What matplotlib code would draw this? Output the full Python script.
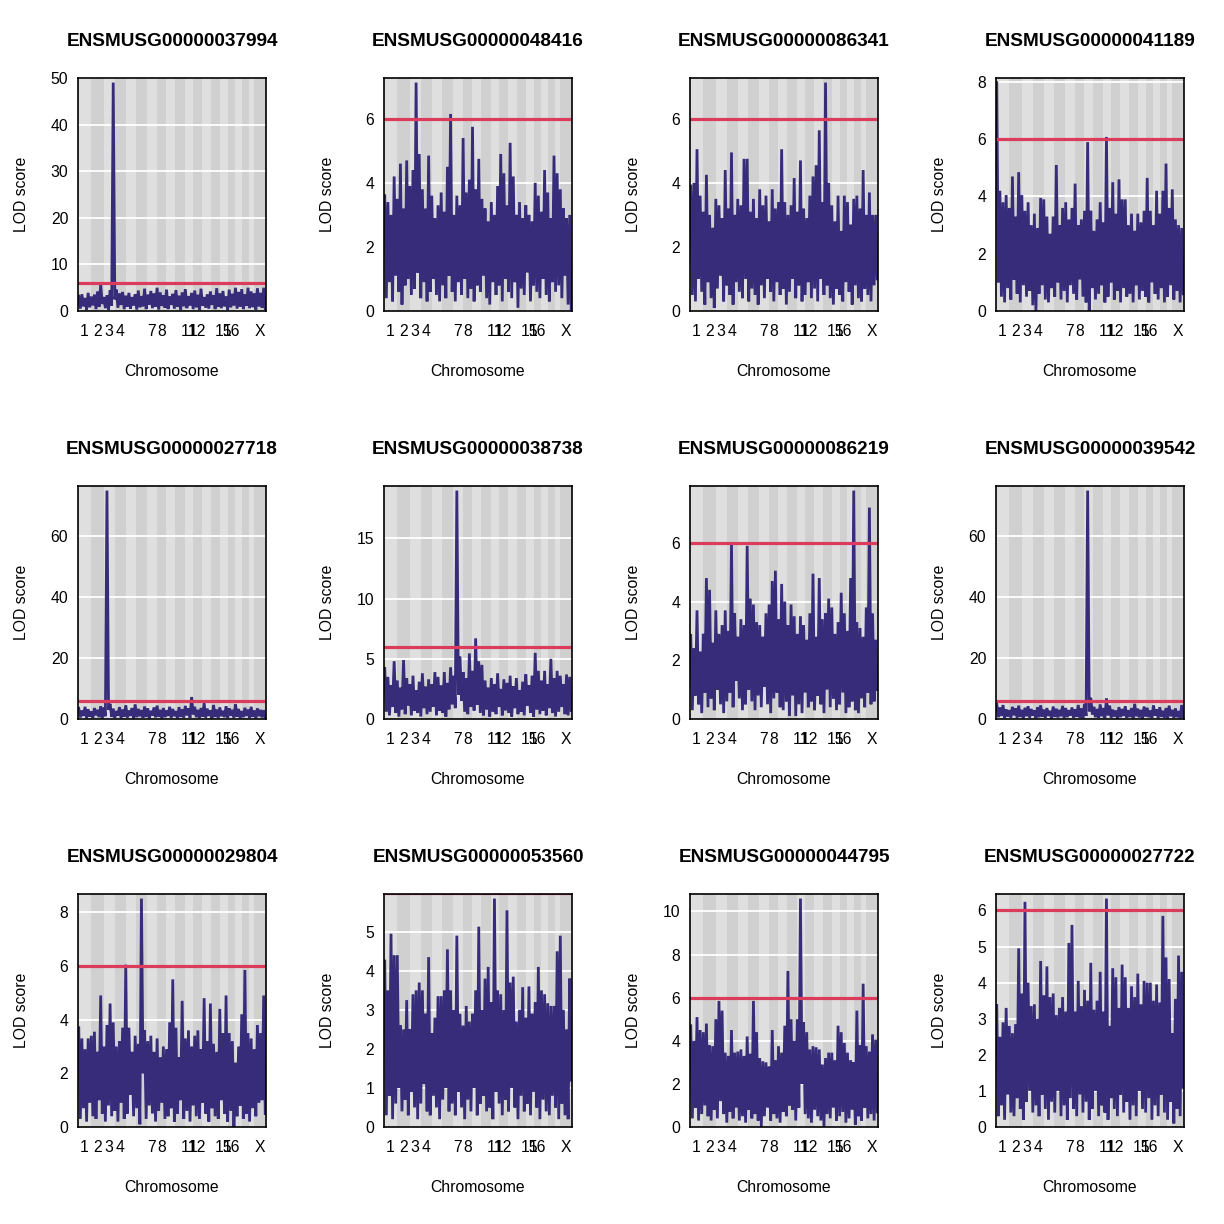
import numpy as np
import matplotlib
matplotlib.use("Agg")
import matplotlib.pyplot as plt

# ---------------- data ----------------
chrom_names = ['1', '2', '3', '4', '5', '6', '7', '8', '9', '10', '11', '12',
               '13', '14', '15', '16', '17', '18', '19', 'X']
chrom_lengths = [195.2, 181.8, 159.7, 156.9, 151.8, 149.6, 144.9, 130.1, 124.4, 130.5,
                 121.9, 120.1, 120.9, 125.1, 104.1, 98.0, 95.3, 90.7, 61.4, 169.5]
chrom_gap = 25.0
label_chroms = ['1', '2', '3', '4', '7', '8', '11', '12', '15', '16', 'X']

genes = ["ENSMUSG00000037994", "ENSMUSG00000048416", "ENSMUSG00000086341", "ENSMUSG00000041189",
         "ENSMUSG00000027718", "ENSMUSG00000038738", "ENSMUSG00000086219", "ENSMUSG00000039542",
         "ENSMUSG00000029804", "ENSMUSG00000053560", "ENSMUSG00000044795", "ENSMUSG00000027722"]
threshold = 6.0

peaks_1 = [3.2, 3.6, 2.8, 3.9, 3.1, 3.5, 4.2, 5.7, 3.0, 3.4,
           4.5, 49.1, 4.6, 3.8, 4.1, 3.3, 3.9, 3.0, 3.6, 4.4,
           3.2, 4.8, 3.5, 4.3, 3.8, 5.0, 4.0, 3.4, 4.6, 3.1,
           3.7, 4.5, 3.3, 4.0, 4.7, 3.2, 3.9, 4.4, 3.5, 4.8,
           3.0, 3.6, 4.2, 3.4, 4.9, 3.8, 4.3, 3.1, 4.6, 3.7,
           5.0, 4.1, 4.7, 3.6, 5.0, 4.2, 3.8, 4.9, 3.9, 5.0]
troughs_1 = [0.5, 1.0, 0.3, 0.8, 1.2, 0.4, 0.9, 1.5, 0.6, 0.3,
             1.1, 2.5, 0.7, 1.3, 0.4, 0.9, 0.5, 1.2, 0.3, 0.8,
             1.0, 0.4, 1.4, 0.6, 0.9, 0.3, 1.1, 0.7, 0.4, 1.3,
             0.5, 0.9, 0.2, 1.0, 0.6, 1.2, 0.4, 0.8, 0.3, 1.1,
             0.7, 0.5, 1.3, 0.4, 0.9, 0.6, 1.0, 0.3, 0.8, 1.2,
             0.5, 0.9, 0.4, 1.1, 0.6, 0.8, 0.3, 1.0, 0.7, 0.5]

peaks_2 = [3.6, 3.4, 3.0, 4.2, 3.5, 4.6, 3.2, 4.7, 3.9, 4.4,
           7.13, 4.9, 3.8, 3.2, 4.85, 3.6, 2.9, 3.3, 3.7, 3.1,
           4.5, 6.15, 3.0, 3.6, 3.3, 5.4, 3.7, 4.1, 5.75, 3.8,
           4.75, 3.5, 3.2, 2.8, 3.4, 3.0, 3.9, 4.9, 4.3, 3.3,
           5.25, 4.2, 3.0, 3.4, 2.9, 3.3, 3.0, 2.8, 4.0, 3.6,
           3.1, 4.4, 3.7, 2.9, 4.85, 4.3, 3.8, 3.2, 2.9, 3.0]
troughs_2 = [0.4, 0.9, 0.3, 1.1, 0.6, 0.2, 0.8, 1.0, 0.5, 0.7,
             1.2, 0.4, 0.9, 0.3, 0.6, 1.0, 0.5, 0.3, 0.8, 0.4,
             1.1, 0.6, 0.3, 0.9, 0.5, 1.0, 0.4, 0.7, 0.3, 0.8,
             0.6, 1.1, 0.4, 0.2, 0.9, 0.5, 0.8, 0.3, 1.0, 0.6,
             0.4, 0.9, 0.1, 0.7, 0.5, 1.2, 0.3, 0.8, 0.6, 0.4,
             1.0, 0.5, 0.3, 0.9, 0.6, 0.8, 0.4, 1.1, 0.2, 0.0]

peaks_3 = [3.9, 4.0, 5.05, 3.6, 3.1, 4.25, 3.0, 2.6, 3.5, 3.3,
           2.9, 4.4, 3.2, 4.95, 3.0, 3.5, 3.3, 4.75, 4.75, 3.1,
           3.5, 2.9, 3.8, 3.3, 3.6, 2.8, 3.8, 3.2, 3.4, 5.05,
           3.4, 3.0, 3.3, 4.15, 3.1, 4.7, 3.2, 2.9, 3.6, 4.2,
           4.55, 5.64, 3.4, 7.13, 4.0, 3.3, 2.8, 3.6, 2.5, 3.6,
           3.4, 2.7, 3.5, 3.6, 3.2, 4.4, 3.0, 3.7, 3.0, 3.0]
troughs_3 = [0.5, 0.3, 1.0, 0.6, 0.2, 0.9, 0.4, 0.1, 0.7, 1.1,
             0.3, 0.8, 0.5, 0.2, 0.9, 0.6, 0.4, 1.0, 0.3, 0.7,
             0.5, 0.2, 0.8, 0.4, 1.0, 0.6, 0.3, 0.9, 0.5, 0.7,
             0.2, 0.6, 1.0, 0.4, 0.8, 0.3, 0.5, 0.9, 0.4, 0.7,
             0.3, 1.0, 0.5, 0.8, 0.4, 0.2, 0.7, 0.5, 0.3, 0.9,
             0.6, 0.2, 0.8, 0.4, 0.3, 0.7, 0.5, 0.3, 0.8, 1.0]

peaks_4 = [7.98, 4.2, 3.8, 4.05, 3.6, 4.7, 3.3, 4.85, 4.05, 3.5,
           3.8, 3.0, 3.4, 2.9, 3.95, 3.9, 3.3, 2.7, 3.3, 5.1,
           3.0, 3.6, 3.8, 3.2, 3.6, 4.45, 3.0, 3.2, 3.5, 5.9,
           3.5, 2.8, 3.2, 3.8, 3.1, 6.08, 3.6, 4.5, 3.4, 4.6,
           3.9, 3.9, 3.0, 3.4, 2.8, 3.4, 3.1, 3.5, 4.65, 3.5,
           3.0, 4.2, 3.4, 4.2, 5.15, 3.6, 4.25, 3.2, 3.0, 2.9]
troughs_4 = [1.0, 0.5, 0.3, 0.8, 0.4, 1.1, 0.6, 0.3, 0.9, 0.5,
             0.7, 0.2, 0.0, 0.6, 0.9, 0.4, 0.3, 0.8, 0.5, 1.0,
             0.4, 0.7, 0.3, 0.9, 0.6, 0.4, 1.1, 0.5, 0.3, 0.0,
             0.8, 0.4, 0.6, 0.9, 0.3, 0.5, 1.0, 0.4, 0.7, 0.3,
             0.8, 0.5, 0.6, 0.3, 0.9, 0.4, 0.7, 0.5, 0.3, 1.0,
             0.6, 0.4, 0.8, 0.3, 0.5, 0.9, 0.4, 0.7, 0.3, 0.6]

peaks_5 = [3.5, 2.8, 4.0, 3.2, 2.5, 3.6, 3.0, 4.2, 3.8, 74.9,
           5.0, 3.4, 2.6, 3.9, 3.1, 4.5, 2.8, 3.6, 4.8, 3.3,
           2.9, 4.1, 3.5, 2.7, 3.8, 4.4, 3.0, 3.6, 2.8, 4.0,
           3.3, 2.6, 3.9, 3.2, 4.3, 3.5, 7.2, 4.0, 3.0, 3.6,
           5.2, 3.4, 2.8, 4.6, 3.1, 3.8, 2.7, 4.2, 3.5, 3.0,
           4.9, 3.3, 2.6, 3.7, 3.1, 4.0, 2.8, 3.5, 3.0, 2.9]
troughs_5 = [0.5, 1.0, 0.3, 0.8, 0.4, 1.2, 0.6, 0.2, 0.9, 3.0,
             0.7, 0.4, 1.1, 0.3, 0.8, 0.5, 1.0, 0.2, 0.6, 0.9,
             0.4, 0.7, 0.3, 1.1, 0.5, 0.8, 0.2, 0.6, 1.0, 0.4,
             0.9, 0.3, 0.7, 0.5, 1.2, 0.4, 1.5, 0.6, 0.3, 0.8,
             0.5, 1.0, 0.2, 0.7, 0.4, 0.9, 0.6, 0.3, 1.1, 0.5,
             0.8, 0.3, 0.6, 1.0, 0.4, 0.7, 0.2, 0.9, 0.5, 0.6]

peaks_6 = [4.2, 3.5, 2.8, 4.8, 3.2, 2.6, 4.9, 3.4, 2.9, 3.6,
           2.4, 3.1, 3.8, 2.7, 3.3, 2.9, 3.9, 3.5, 2.8, 3.9,
           3.0, 4.3, 3.6, 18.98, 5.2, 3.9, 3.4, 5.45, 4.0, 6.7,
           4.8, 4.5, 3.2, 2.6, 3.4, 2.9, 3.8, 2.5, 3.3, 3.0,
           3.6, 2.7, 3.4, 2.4, 3.1, 3.7, 2.8, 3.6, 5.5, 4.0,
           3.2, 4.0, 2.9, 5.0, 3.4, 4.0, 3.6, 2.9, 3.7, 3.5]
troughs_6 = [0.6, 0.3, 1.0, 0.5, 0.2, 0.8, 0.4, 1.1, 0.3, 0.7,
             0.5, 0.2, 0.9, 0.4, 0.6, 1.0, 0.3, 0.7, 0.5, 0.2,
             0.8, 1.2, 0.9, 2.0, 1.5, 0.6, 0.4, 1.0, 0.7, 1.2,
             0.5, 0.3, 0.8, 0.2, 0.6, 0.4, 1.0, 0.3, 0.7, 0.5,
             0.2, 0.9, 0.4, 0.6, 0.3, 1.1, 0.5, 0.2, 0.8, 0.4,
             0.7, 0.3, 0.9, 0.5, 0.2, 0.6, 1.0, 0.4, 0.3, 0.7]

peaks_7 = [2.85, 2.4, 3.7, 2.3, 2.9, 4.8, 4.4, 2.6, 3.7, 2.9,
           3.2, 3.7, 3.0, 6.0, 3.6, 2.8, 3.4, 3.2, 5.9, 4.1,
           3.9, 3.3, 3.2, 2.8, 3.6, 3.9, 4.7, 5.05, 3.4, 4.6,
           4.0, 3.2, 3.9, 3.5, 2.9, 3.5, 3.2, 2.7, 3.6, 4.95,
           2.8, 4.8, 3.4, 3.6, 4.1, 3.8, 2.9, 3.3, 4.3, 3.6,
           3.0, 4.8, 7.78, 3.3, 3.1, 2.8, 3.8, 7.2, 3.6, 2.7]
troughs_7 = [0.3, 0.8, 0.5, 0.2, 0.9, 0.4, 0.7, 0.3, 1.0, 0.5,
             0.2, 0.6, 0.9, 0.4, 1.3, 0.7, 0.3, 0.5, 1.0, 0.6,
             0.3, 0.8, 0.4, 1.1, 0.5, 0.2, 0.7, 0.9, 0.4, 0.3,
             0.6, 0.1, 0.8, 0.1, 0.5, 0.2, 0.9, 0.4, 0.6, 0.3,
             0.8, 0.5, 0.2, 1.0, 0.4, 0.7, 0.3, 0.5, 0.9, 0.2,
             0.4, 0.6, 0.3, 0.2, 0.7, 0.4, 0.9, 0.5, 0.6, 1.0]

peaks_8 = [5.0, 3.8, 4.6, 3.2, 2.9, 4.0, 3.5, 4.4, 3.0, 3.7,
           4.2, 3.3, 2.8, 3.9, 4.5, 3.1, 3.6, 2.7, 4.1, 3.4,
           3.0, 4.3, 3.6, 2.9, 3.8, 3.2, 4.6, 3.5, 5.0, 75.1,
           7.0, 4.0, 3.3, 4.8, 3.6, 6.8, 4.4, 3.1, 2.8, 3.9,
           3.3, 4.2, 2.9, 3.6, 5.0, 3.4, 3.0, 4.1, 3.7, 2.8,
           4.5, 3.2, 3.9, 2.7, 3.6, 4.4, 3.0, 3.5, 2.6, 4.6]
troughs_8 = [0.6, 1.0, 0.3, 0.8, 0.5, 1.2, 0.4, 0.7, 0.2, 0.9,
             0.5, 1.1, 0.3, 0.6, 0.8, 0.4, 1.0, 0.2, 0.7, 0.5,
             0.9, 0.3, 0.6, 1.1, 0.4, 0.8, 0.5, 0.3, 1.0, 2.5,
             1.5, 0.6, 0.4, 0.9, 0.3, 1.2, 0.5, 0.8, 0.2, 0.6,
             1.0, 0.4, 0.7, 0.3, 0.9, 0.5, 0.2, 0.8, 0.6, 0.4,
             1.1, 0.3, 0.7, 0.5, 0.2, 0.9, 0.4, 0.6, 0.3, 0.8]

peaks_9 = [3.7, 3.3, 2.9, 3.3, 3.4, 3.55, 2.8, 4.9, 3.0, 3.8,
           4.6, 3.9, 3.0, 3.2, 3.7, 6.05, 3.7, 2.8, 3.4, 3.1,
           8.51, 3.6, 3.2, 3.4, 2.8, 3.3, 2.6, 3.0, 2.9, 3.9,
           5.5, 3.7, 2.6, 4.7, 3.3, 3.6, 3.0, 3.4, 3.6, 2.9,
           4.8, 3.2, 4.6, 3.1, 2.8, 4.4, 3.5, 4.9, 3.5, 3.2,
           2.4, 3.0, 4.2, 5.85, 3.5, 3.3, 2.9, 3.8, 3.5, 4.9]
troughs_9 = [0.3, 0.7, 0.2, 0.9, 0.4, 0.3, 1.0, 0.5, 0.2, 0.8,
             0.4, 0.6, 0.2, 0.9, 0.3, 0.5, 1.2, 0.4, 0.7, 0.1,
             2.0, 0.3, 0.8, 0.5, 0.2, 0.6, 0.9, 0.3, 0.4, 0.7,
             0.2, 0.5, 1.0, 0.3, 0.6, 0.2, 0.8, 0.4, 0.3, 0.9,
             0.5, 0.2, 0.7, 0.4, 0.3, 1.0, 0.5, 0.2, 0.6, 0.0,
             0.4, 0.8, 0.3, 0.5, 0.2, 0.7, 0.4, 0.9, 1.0, 0.5]

peaks_10 = [4.25, 3.5, 4.95, 4.4, 4.4, 2.6, 2.5, 3.25, 2.5, 3.4,
            3.5, 3.7, 3.5, 2.9, 4.35, 2.4, 2.8, 3.35, 3.35, 3.5,
            4.55, 3.5, 3.0, 4.9, 2.9, 2.6, 3.1, 2.7, 2.9, 3.5,
            5.13, 3.0, 3.8, 4.1, 3.2, 5.85, 3.5, 3.4, 3.0, 5.55,
            3.7, 3.85, 2.7, 3.0, 3.58, 2.8, 3.6, 2.9, 3.2, 4.1,
            3.5, 3.4, 3.17, 3.1, 3.1, 4.5, 4.9, 3.0, 2.5, 3.8]
troughs_10 = [0.3, 0.8, 0.2, 0.6, 1.0, 0.4, 0.7, 0.3, 0.9, 0.5,
              0.2, 0.6, 1.1, 0.4, 0.3, 0.8, 0.5, 0.2, 0.7, 1.0,
              0.4, 0.6, 0.3, 0.9, 0.5, 0.2, 0.7, 0.4, 1.0, 0.3,
              0.6, 0.8, 0.4, 0.5, 0.2, 0.9, 0.6, 0.3, 0.7, 0.4,
              1.0, 0.5, 0.2, 0.8, 0.4, 0.6, 0.3, 0.9, 0.5, 0.2,
              0.7, 0.4, 0.3, 0.8, 0.5, 0.2, 0.6, 0.3, 0.2, 1.2]

peaks_11 = [4.7, 4.0, 5.1, 4.5, 4.4, 4.8, 3.8, 3.75, 5.0, 5.85,
            5.4, 3.45, 3.3, 4.5, 3.45, 3.5, 3.6, 3.3, 4.2, 3.4,
            5.85, 4.4, 3.2, 3.05, 3.0, 2.8, 4.5, 3.1, 3.75, 3.45,
            4.7, 7.24, 5.0, 4.0, 5.0, 10.6, 4.85, 4.4, 3.6, 3.75,
            3.7, 3.6, 2.9, 3.2, 3.45, 3.45, 3.1, 4.7, 4.4, 3.9,
            3.45, 3.1, 3.0, 5.4, 3.8, 6.65, 3.75, 3.5, 4.3, 4.05]
troughs_11 = [0.4, 0.9, 0.3, 0.6, 1.0, 0.5, 0.3, 0.8, 0.4, 1.2,
              0.6, 0.2, 0.7, 0.4, 0.9, 0.3, 0.5, 0.2, 0.8, 0.4,
              0.6, 0.3, 0.0, 0.5, 0.9, 0.3, 0.6, 0.4, 0.2, 0.7,
              0.5, 1.0, 0.8, 0.3, 0.9, 2.0, 0.6, 0.4, 0.2, 0.8,
              0.5, 0.3, 0.0, 0.6, 0.4, 0.9, 0.3, 0.5, 0.7, 0.2,
              0.4, 0.8, 0.1, 0.5, 0.3, 0.9, 0.4, 0.6, 0.3, 0.7]

peaks_12 = [3.37, 2.5, 2.9, 3.3, 2.8, 2.6, 2.85, 4.95, 3.7, 6.24,
            4.0, 3.35, 3.4, 3.0, 4.6, 3.65, 4.45, 3.6, 3.7, 3.1,
            3.3, 3.6, 3.2, 5.1, 5.6, 3.2, 4.05, 3.35, 3.8, 3.5,
            4.55, 3.25, 3.5, 4.3, 3.2, 6.33, 2.8, 4.4, 4.15, 3.3,
            4.5, 4.15, 3.3, 3.9, 3.6, 4.25, 3.4, 4.05, 4.0, 4.0,
            3.5, 3.95, 3.45, 5.85, 4.7, 4.1, 2.6, 3.55, 4.75, 4.3]
troughs_12 = [0.3, 0.6, 0.2, 0.9, 0.4, 0.3, 0.8, 0.5, 0.2, 0.7,
              1.0, 0.4, 0.6, 0.3, 0.9, 0.5, 0.2, 0.7, 0.4, 1.0,
              0.3, 0.6, 0.2, 0.8, 0.5, 0.3, 0.9, 0.4, 0.7, 0.2,
              0.5, 1.0, 0.3, 0.6, 0.4, 0.2, 0.8, 0.5, 0.3, 0.9,
              0.4, 0.7, 0.2, 0.6, 0.3, 1.0, 0.5, 0.4, 0.8, 0.2,
              0.6, 0.3, 0.9, 0.4, 0.2, 0.7, 0.1, 0.5, 0.3, 1.1]

all_peaks = [peaks_1, peaks_2, peaks_3, peaks_4, peaks_5, peaks_6,
             peaks_7, peaks_8, peaks_9, peaks_10, peaks_11, peaks_12]
all_troughs = [troughs_1, troughs_2, troughs_3, troughs_4, troughs_5, troughs_6,
               troughs_7, troughs_8, troughs_9, troughs_10, troughs_11, troughs_12]

# ---------------- style ----------------
LINE_COL = "#372C7A"
THR_COL = "#DC3C5C"
BG1 = "#DFDFDF"
BG2 = "#D0D0D0"
FONT = ["Liberation Sans", "DejaVu Sans"]
plt.rcParams['font.family'] = FONT


def pretty_step(top, n=5):
    cell = top / n
    U = 10 ** np.floor(np.log10(cell))
    h, h5 = 1.5, 0.5 + 1.5 * 1.5
    unit = U
    if 2 * U - cell < h * (cell - unit):
        unit = 2 * U
        if 5 * U - cell < h5 * (cell - unit):
            unit = 5 * U
            if 10 * U - cell < h * (cell - unit):
                unit = 10 * U
    return unit


W = H = 1224
fig = plt.figure(figsize=(12.24, 12.24), dpi=100)

col_x = [78, 384, 690, 996]
row_y = [78, 486, 894]
pw, ph = 188, 233

lengths = np.asarray(chrom_lengths)
idx = np.arange(len(lengths))
starts = np.concatenate([[0], np.cumsum(lengths)[:-1]]) + idx * chrom_gap
ends = starts + lengths
centers = (starts + ends) / 2
x_lo, x_hi = starts[0], ends[-1]

for k in range(12):
    r, c = divmod(k, 4)
    x0, y0 = col_x[c], row_y[r]
    ax = fig.add_axes([x0 / W, 1 - (y0 + ph) / H, pw / W, ph / H])

    pk = np.asarray(all_peaks[k], float)
    tr = np.asarray(all_troughs[k], float)
    n = min(len(pk), len(tr))
    lod = np.empty(2 * n)
    lod[0::2] = pk[:n]
    lod[1::2] = tr[:n]
    pos = np.linspace(x_lo, x_hi, 2 * n)

    top = 1.02 * lod.max()
    ax.set_xlim(x_lo - chrom_gap / 2, x_hi + chrom_gap / 2)
    ax.set_ylim(0, top)

    for i, (s, e) in enumerate(zip(starts, ends)):
        ax.axvspan(s - chrom_gap / 2, e + chrom_gap / 2,
                   color=BG1 if i % 2 == 0 else BG2, lw=0, zorder=0)

    step = pretty_step(top)
    ticks = np.arange(0, top * (1 + 1e-6) + 1e-9, step)
    for t in ticks[1:]:
        ax.axhline(t, color="white", lw=1.3, zorder=1)

    ax.plot(pos, lod, color=LINE_COL, lw=2.0, zorder=2, solid_joinstyle='miter')
    ax.axhline(threshold, color=THR_COL, lw=2.3, zorder=3)

    ax.set_yticks(ticks)
    ax.set_yticklabels([f"{t:g}" for t in ticks])
    lab_pos = [centers[chrom_names.index(ch)] for ch in label_chroms]
    ax.set_xticks(lab_pos)
    ax.set_xticklabels(label_chroms)
    ax.tick_params(axis='both', length=0, labelsize=11.3)
    ax.tick_params(axis='y', pad=7)
    ax.tick_params(axis='x', pad=9)
    for sp in ax.spines.values():
        sp.set_color("black")
        sp.set_linewidth(1.2)
        sp.set_zorder(5)

    ax.set_title(genes[k], fontweight="bold", fontsize=13.7, pad=23)
    cx = (x0 + pw / 2) / W
    fig.text(cx, 1 - (y0 + ph + 60) / H, "Chromosome", ha="center", va="center", fontsize=11.3)
    fig.text((x0 - 57) / W, 1 - (y0 + ph / 2) / H, "LOD score", ha="center", va="center",
             rotation=90, fontsize=11.3)

fig.savefig("out.png", dpi=100, facecolor="white")
